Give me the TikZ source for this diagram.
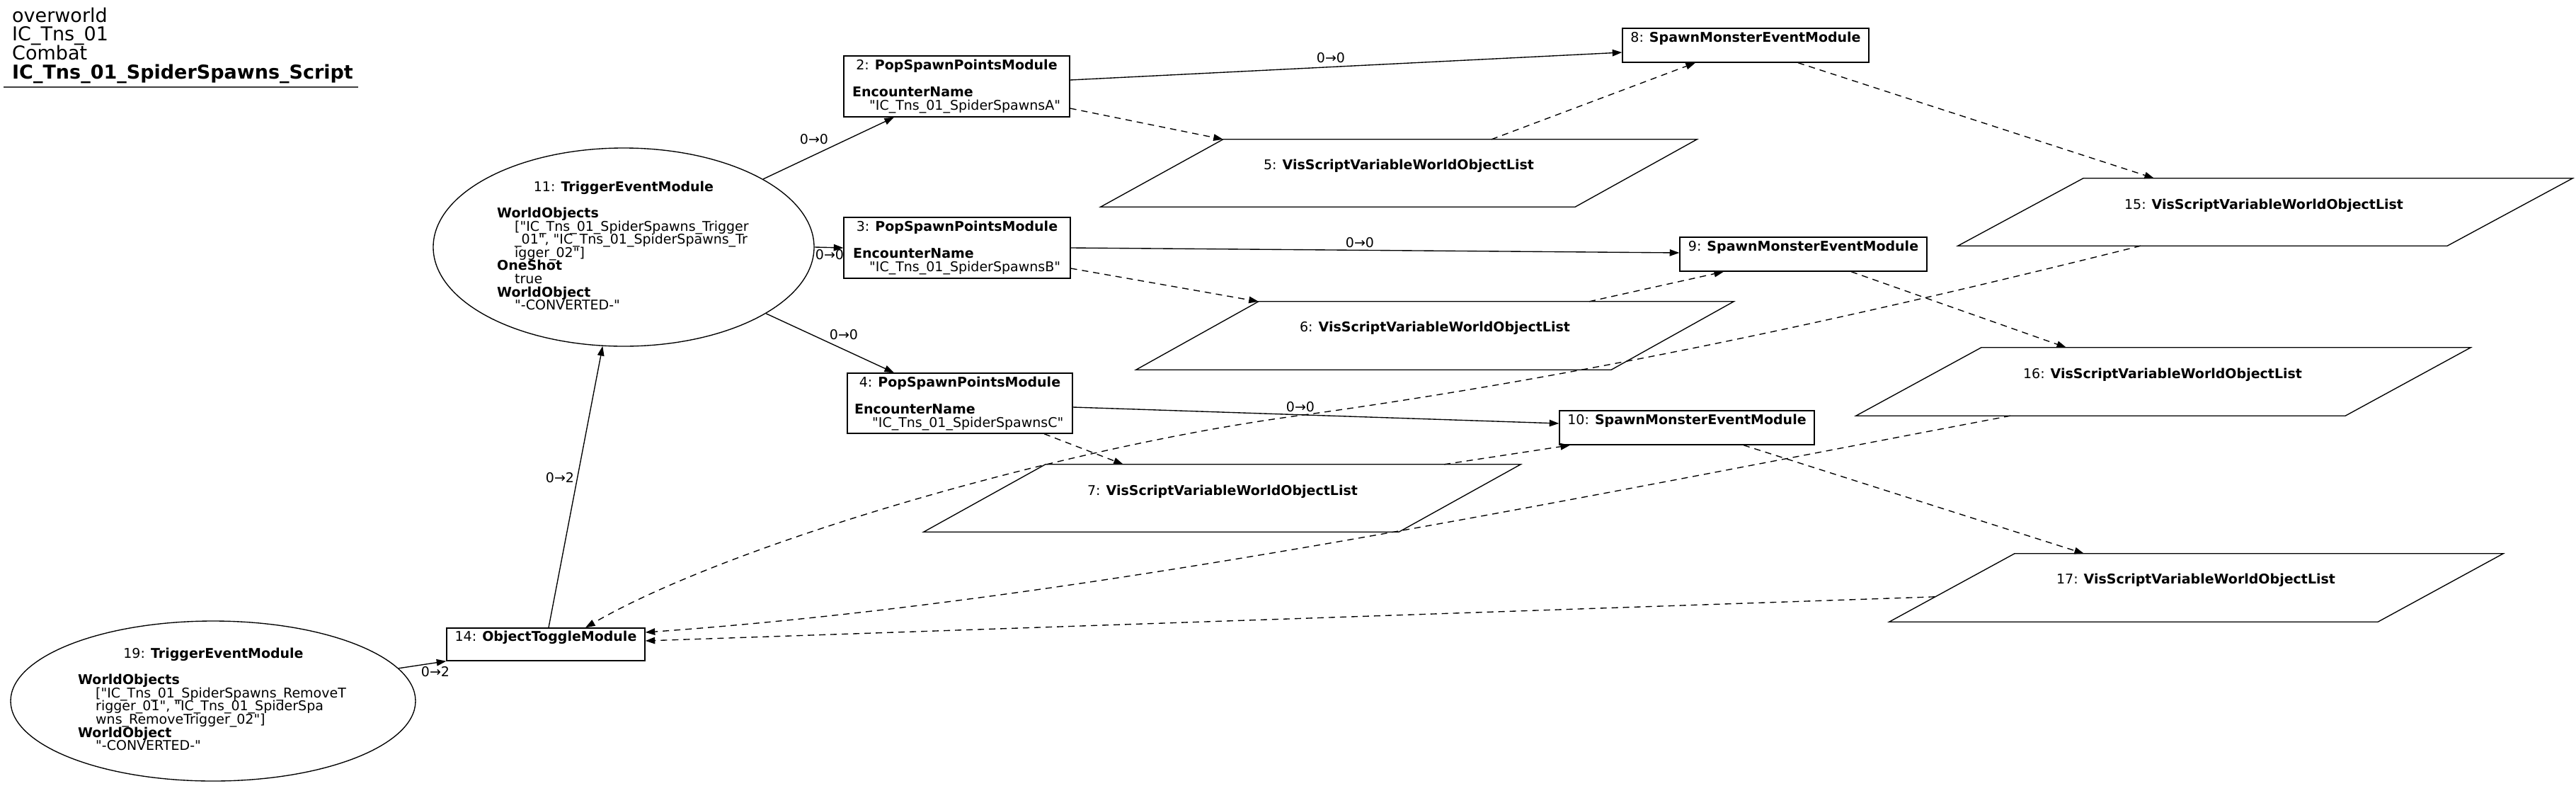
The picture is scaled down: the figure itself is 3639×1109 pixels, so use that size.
\documentclass[tikz,border=0pt]{standalone}
\usepackage{fontspec}
\setmainfont{DejaVu Sans}[Ligatures=TeXOff]
\usetikzlibrary{arrows.meta,shapes.geometric}
\begin{document}
\begin{tikzpicture}[x=1pt,y=-1pt,
  box/.style={draw, rectangle, line width=1.36pt, inner sep=0pt},
  ell/.style={draw, ellipse, line width=1.36pt, inner sep=0pt},
  pbody/.style={rectangle, inner sep=0pt},
  shp/.style={draw, line width=1.36pt, line join=miter},
  t/.style={inner sep=0pt, anchor=base west, font=\fontsize{19}{19}\selectfont},
  tc/.style={t, anchor=base},
  tt/.style={inner sep=0pt, anchor=base west, font=\fontsize{27}{27}\selectfont},
  lab/.style={inner sep=0pt, font=\fontsize{19}{19}\selectfont},
  flow/.style={line width=1.36pt, -{Triangle[length=13.6pt,width=9.5pt]}},
  dep/.style={flow, dash pattern=on 9pt off 7pt}]
\useasboundingbox (0,0) rectangle (3639,1109);

% title block
\node[tt] (h1) at (17,31) {overworld};
\node[tt] (h2) at (17,57.7) {IC\_Tns\_01};
\node[tt] (h3) at (17,84.4) {Combat};
\node[tt] (h4) at (17,111) {\textbf{IC\_Tns\_01\_SpiderSpawns\_Script}};
\draw[line width=2pt, black!75] (5,123) -- (506,123);

% ellipses
\node[ell, minimum width=538pt, minimum height=280pt] (n11) at (881,349) {};
\node[tc] (t11a) at (881,270.3) {11: \textbf{TriggerEventModule}};
\node[t] (t11b) at (702,307.5) {\textbf{WorldObjects}};
\node[t] (t11c) at (727,326.1) {["IC\_Tns\_01\_SpiderSpawns\_Trigger};
\node[t] (t11d) at (727,344.7) {\_01", "IC\_Tns\_01\_SpiderSpawns\_Tr};
\node[t] (t11e) at (727,363.3) {igger\_02"]};
\node[t] (t11f) at (702,381.9) {\textbf{OneShot}};
\node[t] (t11g) at (727,400.5) {true};
\node[t] (t11h) at (702,419.1) {\textbf{WorldObject}};
\node[t] (t11i) at (727,437.7) {"-CONVERTED-"};

\node[ell, minimum width=572pt, minimum height=226pt] (n19) at (301,990) {};
\node[tc] (t19a) at (301.5,929.5) {19: \textbf{TriggerEventModule}};
\node[t] (t19b) at (110,966.7) {\textbf{WorldObjects}};
\node[t] (t19c) at (135,985.3) {["IC\_Tns\_01\_SpiderSpawns\_RemoveT};
\node[t] (t19d) at (135,1003.9) {rigger\_01", "IC\_Tns\_01\_SpiderSpa};
\node[t] (t19e) at (135,1022.5) {wns\_RemoveTrigger\_02"]};
\node[t] (t19f) at (110,1041.1) {\textbf{WorldObject}};
\node[t] (t19g) at (135,1059.7) {"-CONVERTED-"};

% boxes
\node[box, minimum width=319pt, minimum height=86pt] (n2) at (1351.5,122) {};
\node[tc] (t2a) at (1351.5,98.5) {2: \textbf{PopSpawnPointsModule}};
\node[t] (t2b) at (1204,136.5) {\textbf{EncounterName}};
\node[t] (t2c) at (1228,155) {"IC\_Tns\_01\_SpiderSpawnsA"};

\node[box, minimum width=320pt, minimum height=86pt] (n3) at (1352,350) {};
\node[tc] (t3a) at (1352,326.5) {3: \textbf{PopSpawnPointsModule}};
\node[t] (t3b) at (1205,364.5) {\textbf{EncounterName}};
\node[t] (t3c) at (1228,383) {"IC\_Tns\_01\_SpiderSpawnsB"};

\node[box, minimum width=318pt, minimum height=85pt] (n4) at (1356,569.5) {};
\node[tc] (t4a) at (1356,546.5) {4: \textbf{PopSpawnPointsModule}};
\node[t] (t4b) at (1207,584.5) {\textbf{EncounterName}};
\node[t] (t4c) at (1232,603) {"IC\_Tns\_01\_SpiderSpawnsC"};

\node[box, minimum width=348pt, minimum height=48pt] (n8) at (2466,64) {};
\node[tc] (t8) at (2466,59.5) {8: \textbf{SpawnMonsterEventModule}};
\node[box, minimum width=349pt, minimum height=48pt] (n9) at (2547.5,359) {};
\node[tc] (t9) at (2547.5,354.5) {9: \textbf{SpawnMonsterEventModule}};
\node[box, minimum width=360pt, minimum height=48pt] (n10) at (2383,604) {};
\node[tc] (t10) at (2383,599.5) {10: \textbf{SpawnMonsterEventModule}};
\node[box, minimum width=280pt, minimum height=46pt] (n14) at (771,910) {};
\node[tc] (t14) at (771,905.5) {14: \textbf{ObjectToggleModule}};

% parallelograms
\node[pbody, minimum width=497pt, minimum height=95pt] (p5) at (1976.5,244.5) {};
\draw[shp] (p5.north west) -- ([xshift=172pt]p5.north east) -- (p5.south east) -- ([xshift=-173pt]p5.south west) -- cycle;
\node[tc] (t5) at (1976,239.5) {5: \textbf{VisScriptVariableWorldObjectList}};

\node[pbody, minimum width=498pt, minimum height=96pt] (p6) at (2027,474) {};
\draw[shp] (p6.north west) -- ([xshift=173pt]p6.north east) -- (p6.south east) -- ([xshift=-173pt]p6.south west) -- cycle;
\node[tc] (t6) at (2027,468.5) {6: \textbf{VisScriptVariableWorldObjectList}};

\node[pbody, minimum width=499pt, minimum height=95pt] (p7) at (1726.5,703.5) {};
\draw[shp] (p7.north west) -- ([xshift=172pt]p7.north east) -- (p7.south east) -- ([xshift=-172pt]p7.south west) -- cycle;
\node[tc] (t7) at (1727,699.5) {7: \textbf{VisScriptVariableWorldObjectList}};

\node[pbody, minimum width=514pt, minimum height=95pt] (p15) at (3200,299.5) {};
\draw[shp] (p15.north west) -- ([xshift=177pt]p15.north east) -- (p15.south east) -- ([xshift=-177pt]p15.south west) -- cycle;
\node[tc] (t15) at (3198,295.5) {15: \textbf{VisScriptVariableWorldObjectList}};

\node[pbody, minimum width=514pt, minimum height=96pt] (p16) at (3056,539) {};
\draw[shp] (p16.north west) -- ([xshift=177pt]p16.north east) -- (p16.south east) -- ([xshift=-177pt]p16.south west) -- cycle;
\node[tc] (t16) at (3055,534.5) {16: \textbf{VisScriptVariableWorldObjectList}};

\node[pbody, minimum width=513pt, minimum height=96pt] (p17) at (3102.5,830) {};
\draw[shp] (p17.north west) -- ([xshift=177pt]p17.north east) -- (p17.south east) -- ([xshift=-177pt]p17.south west) -- cycle;
\node[tc] (t17) at (3102,824.5) {17: \textbf{VisScriptVariableWorldObjectList}};

% solid connectors
\draw[flow] (n11.26) -- ([xshift=-88.5pt]n2.south);
\node[lab] (l1) at (1150,197) {0→0};
\draw[flow] (n11.east) -- (n3.west);
\node[lab] (l2) at (1172,360) {0→0};
\draw[flow] (n11.-25) -- ([xshift=-93pt]n4.north);
\node[lab] (l3) at (1192,473) {0→0};
\draw[flow] ([yshift=9pt]n2.east) -- ([yshift=-10pt]n8.west);
\node[lab] (l4) at (1880,82) {0→0};
\draw[flow] (n3.east) -- ([yshift=2pt]n9.west);
\node[lab] (l5) at (1921,343) {0→0};
\draw[flow] ([yshift=-5.5pt]n4.east) -- ([yshift=6pt]n10.west);
\node[lab] (l6) at (1837,575) {0→0};
\draw[flow] ([xshift=4pt]n14.north) -- (n11.258);
\node[lab] (l7) at (791,675) {0→2};
\draw[flow] (n19.10) -- (n14.south west);
\node[lab] (l8) at (615,949) {0→2};

% dashed connectors
\draw[dep] ([yshift=-31pt]n2.east) -- (p5.north west);
\draw[dep] ([yshift=-29pt]n3.east) -- (p6.north west);
\draw[dep] ([xshift=119pt]n4.south) -- ([xshift=110pt]p7.north west);
\draw[dep] ([xshift=130.5pt]p5.north) -- ([xshift=-71pt]n8.south);
\draw[dep] ([xshift=218pt]p6.north) -- ([xshift=-112.5pt]n9.south);
\draw[dep] ([xshift=313.5pt]p7.north) -- ([xshift=-165pt]n10.south);
\draw[dep] ([xshift=74pt]n8.south) -- ([xshift=-157pt]p15.north);
\draw[dep] ([xshift=67.5pt]n9.south) -- ([xshift=-137pt]p16.north);
\draw[dep] ([xshift=80pt]n10.south) -- ([xshift=-158.5pt]p17.north);
\draw[dep] ([xshift=-176pt]p15.south) .. controls (2624,447) and (2249,529) .. (1849,585)
  .. controls (1499,630) and (1027,770) .. ([xshift=56pt]n14.north);
\draw[dep] ([xshift=-216pt]p16.south) .. controls (2140,720) and (1512,850) .. ([yshift=17pt]n14.east);
\draw[dep] ([xshift=-112.5pt,yshift=-61pt]p17.north west) -- ([yshift=5pt]n14.east);
\end{tikzpicture}
\end{document}
